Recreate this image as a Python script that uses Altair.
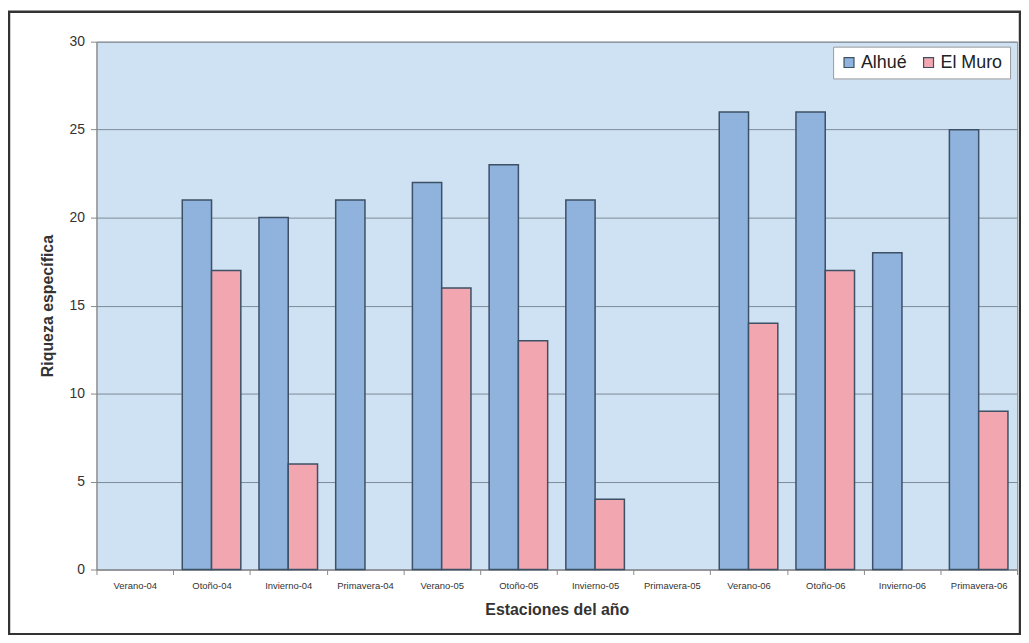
import altair as alt
import pandas as pd

estaciones = ["Verano-04", "Otoño-04", "Invierno-04", "Primavera-04",
              "Verano-05", "Otoño-05", "Invierno-05", "Primavera-05",
              "Verano-06", "Otoño-06", "Invierno-06", "Primavera-06"]
alhue = [0, 21, 20, 21, 22, 23, 21, 0, 26, 26, 18, 25]
el_muro = [0, 17, 6, 0, 16, 13, 4, 0, 14, 17, 0, 9]
series = ["Alhué", "El Muro"]
colores = ["#8fb3dc", "#f2a6b0"]

rows = []
for i, e in enumerate(estaciones):
    rows.append({"estacion": e, "serie": series[0], "valor": alhue[i]})
    rows.append({"estacion": e, "serie": series[1], "valor": el_muro[i]})
df = pd.DataFrame(rows)

W, H = 926, 531

bars = alt.Chart(df).transform_filter("datum.valor > 0").mark_bar(
    stroke="#3c5066", strokeWidth=1.5
).encode(
    x=alt.X("estacion:N", sort=estaciones,
            scale=alt.Scale(domain=estaciones, paddingInner=0, paddingOuter=0),
            axis=alt.Axis(title="Estaciones del año", labelAngle=0,
                          tickBand="extent", labelFontSize=9.5,
                          labelColor="#333", labelFont="Liberation Sans",
                          titleFont="Liberation Sans", titleFontSize=16,
                          titleFontWeight="bold", titleColor="#333",
                          titlePadding=12, domainColor="#888",
                          tickColor="#888", tickSize=5, labelPadding=6)),
    xOffset=alt.XOffset("serie:N", sort=series,
                        scale=alt.Scale(domain=series, paddingOuter=0.31, paddingInner=0)),
    y=alt.Y("valor:Q", scale=alt.Scale(domain=[0, 30]),
            axis=alt.Axis(title="Riqueza específica", values=[0, 5, 10, 15, 20, 25, 30],
                          labelFontSize=14, labelColor="#333",
                          labelFont="Liberation Sans", titleFont="Liberation Sans",
                          titleFontSize=16, titleFontWeight="bold",
                          titleColor="#333", titlePadding=14,
                          gridColor="#7d8a97", gridWidth=1, domainColor="#888",
                          tickColor="#888", tickSize=6, labelPadding=6)),
    color=alt.Color("serie:N", sort=series,
                    scale=alt.Scale(domain=series, range=colores),
                    legend=alt.Legend(title=None, orient="none", legendX=741,
                                      legendY=5, direction="horizontal",
                                      fillColor="white", strokeColor="#999",
                                      padding=7, symbolType="square",
                                      symbolSize=100, symbolStrokeColor="#3c5066",
                                      symbolStrokeWidth=1.2,
                                      labelFont="Liberation Sans",
                                      labelFontSize=18, labelColor="#222",
                                      columnPadding=12, labelOffset=3)),
)

border = alt.Chart(pd.DataFrame({"a": [0]})).mark_rect(
    fill=None, stroke="#333", strokeWidth=2.5
).encode(x=alt.value(-88), x2=alt.value(929), y=alt.value(-30), y2=alt.value(596))

chart = alt.layer(bars, border).properties(
    width=W, height=H,
    padding={"left": 89, "top": 32, "right": 4, "bottom": 64},
    autosize=alt.AutoSizeParams(type="none"),
    background="white",
).configure_view(fill="#cfe2f3", stroke="#999", strokeWidth=1)

chart.save("out.html", embed_options={"renderer": "svg", "actions": False})
